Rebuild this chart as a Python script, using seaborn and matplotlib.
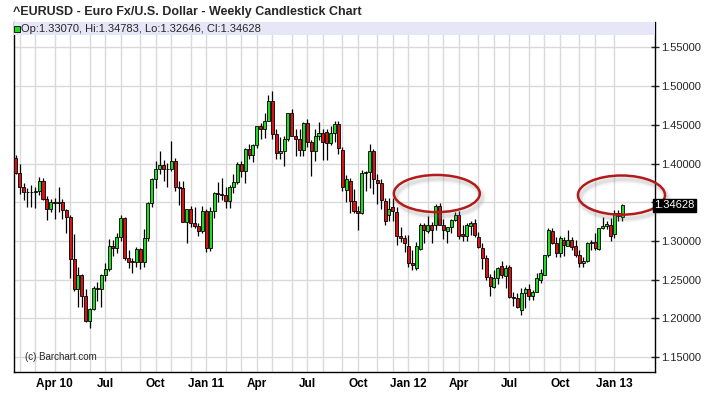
import numpy as np
import pandas as pd
import matplotlib
matplotlib.use("Agg")
import matplotlib.pyplot as plt
from matplotlib.patches import Ellipse, Rectangle
from matplotlib.ticker import FuncFormatter
import matplotlib.transforms as mtransforms
import seaborn as sns

# weekly EUR/USD candles, first week starts 2010-01-25
first_week = "2010-01-25"

opens = [1.4076, 1.3872, 1.3695, 1.3635, 1.3630, 1.3628, 1.3640, 1.3772, 1.3540, 1.3415,
         1.3505, 1.3495, 1.3510, 1.3395, 1.3305, 1.2765, 1.2385, 1.2555, 1.2285, 1.1965,
         1.2125, 1.2397, 1.2380, 1.2565, 1.2640, 1.2935, 1.2905, 1.3050, 1.3295, 1.2775,
         1.2730, 1.2725, 1.2895, 1.2725, 1.3040, 1.3492, 1.3803, 1.3933, 1.3981, 1.3933,
         1.3924, 1.4032, 1.3700, 1.3680, 1.3240, 1.3414, 1.3232, 1.3190, 1.3125, 1.3383,
         1.2905, 1.3383, 1.3621, 1.3610, 1.3600, 1.3513, 1.3700, 1.3758, 1.3998, 1.3900,
         1.4193, 1.4106, 1.4240, 1.4486, 1.4443, 1.4551, 1.4810, 1.4387, 1.4132, 1.4162,
         1.4313, 1.4647, 1.4356, 1.4322, 1.4175, 1.4530, 1.4278, 1.4162, 1.4356, 1.4400,
         1.4413, 1.4261, 1.4400, 1.4508, 1.4170, 1.3665, 1.3780, 1.3513, 1.3383, 1.3362,
         1.3881, 1.3890, 1.4162, 1.3786, 1.3752, 1.3513, 1.3340, 1.3440, 1.3370, 1.3059,
         1.3038, 1.2930, 1.2714, 1.2649, 1.2900, 1.3211, 1.3124, 1.3211, 1.3211, 1.3448,
         1.3211, 1.3124, 1.3180, 1.3276, 1.3340, 1.3090, 1.3068, 1.3189, 1.3233, 1.3046,
         1.2908, 1.2779, 1.2540, 1.2411, 1.2519, 1.2679, 1.2549, 1.2670, 1.2281, 1.2260,
         1.2108, 1.2325, 1.2380, 1.2290, 1.2346, 1.2497, 1.2562, 1.2822, 1.3124, 1.2973,
         1.2844, 1.3016, 1.2938, 1.3016, 1.2938, 1.2822, 1.2714, 1.2740, 1.2973, 1.2990,
         1.2896, 1.3168, 1.3189, 1.3211, 1.3094, 1.3362, 1.33070]
highs = [1.4106, 1.4000, 1.3745, 1.3690, 1.3720, 1.3695, 1.3825, 1.3815, 1.3580, 1.3545,
         1.3560, 1.3700, 1.3540, 1.3420, 1.3330, 1.3095, 1.2670, 1.2570, 1.2380, 1.2140,
         1.2420, 1.2470, 1.2580, 1.2720, 1.3030, 1.3010, 1.3110, 1.3335, 1.3310, 1.2880,
         1.2780, 1.2920, 1.2910, 1.3160, 1.3500, 1.3810, 1.4030, 1.4160, 1.4040, 1.4010,
         1.4290, 1.4070, 1.3770, 1.3780, 1.3420, 1.3450, 1.3440, 1.3230, 1.3450, 1.3420,
         1.3440, 1.3630, 1.3760, 1.3820, 1.3700, 1.3720, 1.3860, 1.4020, 1.4030, 1.4195,
         1.4250, 1.4250, 1.4490, 1.4520, 1.4650, 1.4880, 1.4940, 1.4450, 1.4340, 1.4350,
         1.4650, 1.4700, 1.4450, 1.4450, 1.4540, 1.4580, 1.4300, 1.4450, 1.4540, 1.4450,
         1.4450, 1.4480, 1.4550, 1.4550, 1.4220, 1.3850, 1.3820, 1.3670, 1.3450, 1.3915,
         1.3910, 1.4247, 1.4190, 1.3870, 1.3800, 1.3550, 1.3550, 1.3550, 1.3440, 1.3180,
         1.3080, 1.3080, 1.2880, 1.2990, 1.3230, 1.3230, 1.3320, 1.3250, 1.3480, 1.3490,
         1.3290, 1.3180, 1.3290, 1.3380, 1.3385, 1.3210, 1.3230, 1.3260, 1.3280, 1.3120,
         1.2980, 1.2820, 1.2570, 1.2630, 1.2670, 1.2740, 1.2690, 1.2690, 1.2340, 1.2330,
         1.2390, 1.2410, 1.2440, 1.2370, 1.2590, 1.2640, 1.2820, 1.3170, 1.3170, 1.3050,
         1.3070, 1.3050, 1.3140, 1.3050, 1.3010, 1.2880, 1.2800, 1.2990, 1.3010, 1.3100,
         1.3170, 1.3310, 1.3260, 1.3300, 1.3400, 1.3400, 1.34783]
lows = [1.3860, 1.3605, 1.3535, 1.3445, 1.3435, 1.3430, 1.3590, 1.3530, 1.3270, 1.3370,
        1.3290, 1.3380, 1.3290, 1.3110, 1.2520, 1.2350, 1.2145, 1.2150, 1.1960, 1.1875,
        1.2110, 1.2220, 1.2150, 1.2490, 1.2610, 1.2810, 1.2840, 1.3000, 1.2760, 1.2650,
        1.2590, 1.2670, 1.2640, 1.2660, 1.3000, 1.3440, 1.3690, 1.3860, 1.3780, 1.3700,
        1.3900, 1.3650, 1.3460, 1.3240, 1.2970, 1.3180, 1.3170, 1.3060, 1.3100, 1.2860,
        1.2870, 1.3300, 1.3500, 1.3530, 1.3430, 1.3430, 1.3620, 1.3740, 1.3830, 1.3750,
        1.4060, 1.4020, 1.4200, 1.4320, 1.4330, 1.4550, 1.4320, 1.4060, 1.4060, 1.3970,
        1.4290, 1.4350, 1.4100, 1.4100, 1.4100, 1.4220, 1.3840, 1.4030, 1.4300, 1.4050,
        1.4050, 1.4240, 1.4280, 1.4130, 1.3650, 1.3500, 1.3360, 1.3360, 1.3145, 1.3350,
        1.3650, 1.3680, 1.3610, 1.3480, 1.3420, 1.3210, 1.3260, 1.3260, 1.2950, 1.2990,
        1.2860, 1.2660, 1.2625, 1.2620, 1.2880, 1.2980, 1.3110, 1.2970, 1.3140, 1.3210,
        1.3030, 1.2980, 1.3100, 1.3260, 1.3030, 1.3000, 1.3000, 1.3080, 1.3050, 1.2910,
        1.2640, 1.2500, 1.2290, 1.2400, 1.2440, 1.2520, 1.2400, 1.2270, 1.2160, 1.2140,
        1.2040, 1.2130, 1.2240, 1.2240, 1.2340, 1.2460, 1.2560, 1.2800, 1.2960, 1.2800,
        1.2800, 1.2810, 1.2930, 1.2880, 1.2800, 1.2670, 1.2660, 1.2730, 1.2880, 1.2880,
        1.2880, 1.3150, 1.3160, 1.3000, 1.3040, 1.3260, 1.32646]
closes = [1.3872, 1.3695, 1.3635, 1.3630, 1.3628, 1.3640, 1.3772, 1.3540, 1.3415, 1.3505,
          1.3495, 1.3510, 1.3395, 1.3305, 1.2765, 1.2385, 1.2555, 1.2285, 1.1965, 1.2125,
          1.2397, 1.2380, 1.2565, 1.2640, 1.2935, 1.2905, 1.3050, 1.3295, 1.2775, 1.2730,
          1.2740, 1.2895, 1.2725, 1.3040, 1.3492, 1.3803, 1.3933, 1.3981, 1.3933, 1.3930,
          1.4032, 1.3700, 1.3680, 1.3240, 1.3414, 1.3232, 1.3190, 1.3125, 1.3383, 1.2905,
          1.3383, 1.3621, 1.3610, 1.3600, 1.3513, 1.3700, 1.3758, 1.3998, 1.3900, 1.4193,
          1.4106, 1.4240, 1.4486, 1.4443, 1.4551, 1.4810, 1.4387, 1.4132, 1.4162, 1.4313,
          1.4647, 1.4356, 1.4322, 1.4175, 1.4530, 1.4278, 1.4162, 1.4356, 1.4400, 1.4283,
          1.4261, 1.4400, 1.4508, 1.4206, 1.3700, 1.3803, 1.3513, 1.3383, 1.3362, 1.3881,
          1.3890, 1.4162, 1.3800, 1.3752, 1.3535, 1.3254, 1.3414, 1.3383, 1.3059, 1.3040,
          1.2973, 1.2714, 1.2692, 1.2930, 1.3211, 1.3146, 1.3211, 1.3146, 1.3448, 1.3211,
          1.3137, 1.3180, 1.3276, 1.3340, 1.3068, 1.3068, 1.3211, 1.3233, 1.3081, 1.2921,
          1.2779, 1.2540, 1.2420, 1.2519, 1.2649, 1.2562, 1.2649, 1.2281, 1.2260, 1.2151,
          1.2325, 1.2380, 1.2290, 1.2346, 1.2519, 1.2584, 1.2822, 1.3137, 1.2981, 1.2851,
          1.3038, 1.2951, 1.3016, 1.2929, 1.2822, 1.2714, 1.2740, 1.2973, 1.2990, 1.2908,
          1.3168, 1.3189, 1.3224, 1.3059, 1.3362, 1.3318, 1.34628]

quarter_labels = ["Apr 10", "Jul", "Oct", "Jan 11", "Apr", "Jul", "Oct",
                  "Jan 12", "Apr", "Jul", "Oct", "Jan 13"]
price_ticks = [1.15, 1.20, 1.25, 1.30, 1.35, 1.40, 1.45, 1.50, 1.55]
last_price = 1.34628
info_text = "Op:1.33070, Hi:1.34783, Lo:1.32646, Cl:1.34628"
title = "^EURUSD - Euro Fx/U.S. Dollar - Weekly Candlestick Chart"

# highlighted areas: (week index, price), (width in weeks, height in price)
circle_centers = [(108.3, 1.3613), (155.8, 1.3593)]
circle_sizes = [(22.1, 0.048), (22.4, 0.0506)]

sns.set_style("white")
plt.rcParams["font.family"] = ["Liberation Sans", "DejaVu Sans"]

df = pd.DataFrame({"open": opens, "high": highs, "low": lows, "close": closes})
df["date"] = pd.date_range(first_week, periods=len(df), freq="7D")
df["idx"] = np.arange(len(df))
df["up"] = df["close"] >= df["open"]

# first week of each month -> grid, first week of each quarter -> labels
new_month = df["date"].dt.month != df["date"].dt.month.shift(1)
new_month.iloc[0] = False
month_idx = df.loc[new_month, "idx"].values
quarter_idx = df.loc[new_month & df["date"].dt.month.isin([1, 4, 7, 10]), "idx"].values

fig = plt.figure(figsize=(7.14, 3.99), dpi=100)
ax = fig.add_axes([13.6 / 714, 27 / 399, 640.9 / 714, 350 / 399])
ax.set_xlim(-0.56, 164.3)
ax.set_ylim(1.1309, 1.5828)

# grid
for m in month_idx:
    ax.axvline(m, color="#DADADA", lw=1, zorder=0)
for p in price_ticks:
    ax.axhline(p, color="#DADADA", lw=1, zorder=0)

# candles
green, red = "#22D822", "#D41414"
ax.vlines(df["idx"], df["low"], df["high"], color="black", lw=0.9, zorder=3)
body_bottom = df[["open", "close"]].min(axis=1)
body_height = (df["close"] - df["open"]).abs().clip(lower=0.0006)
ax.bar(df["idx"], body_height, bottom=body_bottom, width=0.78,
       color=np.where(df["up"], green, red), edgecolor="black", linewidth=0.6, zorder=4)

# info band at top
band_h = 13 / 350
ax.add_patch(Rectangle((0, 1 - band_h), 1, band_h, transform=ax.transAxes,
                       facecolor="#E6E6F8", edgecolor="none", zorder=5))
ax.plot([3.6 / 640.9], [1 - band_h / 2], marker="s", ms=5, mfc=green, mec="black",
        mew=0.6, transform=ax.transAxes, zorder=6, clip_on=False)
ax.text(7.5 / 640.9, 1 - band_h / 2, info_text, transform=ax.transAxes, fontsize=8,
        va="center", ha="left", zorder=6)

blend = mtransforms.blended_transform_factory(ax.transAxes, ax.transData)
ax.text(11.5 / 640.9, 1.15, "(c) Barchart.com", transform=blend, fontsize=7,
        va="center", ha="left", zorder=6)

# highlight ellipses with soft shadow
for (cx, cy), (w, h) in zip(circle_centers, circle_sizes):
    for k, a in [(6, 0.05), (4, 0.08), (2.5, 0.12)]:
        ax.add_patch(Ellipse((cx + 0.6, cy - 0.005), w, h, fill=False, edgecolor="gray",
                             lw=k, alpha=a, zorder=6, clip_on=False))
    ax.add_patch(Ellipse((cx, cy), w, h, fill=False, edgecolor="#B31A1A", lw=1.8,
                         zorder=7, clip_on=False))

# axes styling
ax.set_xticks(quarter_idx)
ax.set_xticklabels(quarter_labels, fontsize=8.5, fontweight="bold")
ax.tick_params(axis="x", direction="out", length=3, width=1, pad=1.5, colors="black")
ax.yaxis.tick_right()
ax.set_yticks(price_ticks)
# the last-price box sits on the 1.35 level, so that label is left blank
ax.yaxis.set_major_formatter(FuncFormatter(lambda v, _: "" if abs(v - 1.35) < 1e-9 else f"{v:.5f}"))
ax.tick_params(axis="y", direction="inout", length=6, width=1, pad=2, labelsize=8)
for side in ["left", "bottom", "right"]:
    ax.spines[side].set_color("black")
    ax.spines[side].set_linewidth(1)
ax.spines["top"].set_visible(False)

ax.annotate(f"{last_price:.5f}", xy=(1, last_price), xycoords=("axes fraction", "data"),
            xytext=(0, 0), textcoords="offset points", va="center", ha="left",
            color="white", fontsize=8,
            bbox=dict(boxstyle="square,pad=0.12", fc="black", ec="black"),
            zorder=10, annotation_clip=False)

fig.text(13 / 714, 1 - 12 / 399, title, fontsize=9, fontweight="bold", va="center", ha="left")

fig.savefig("out.png", dpi=100)
